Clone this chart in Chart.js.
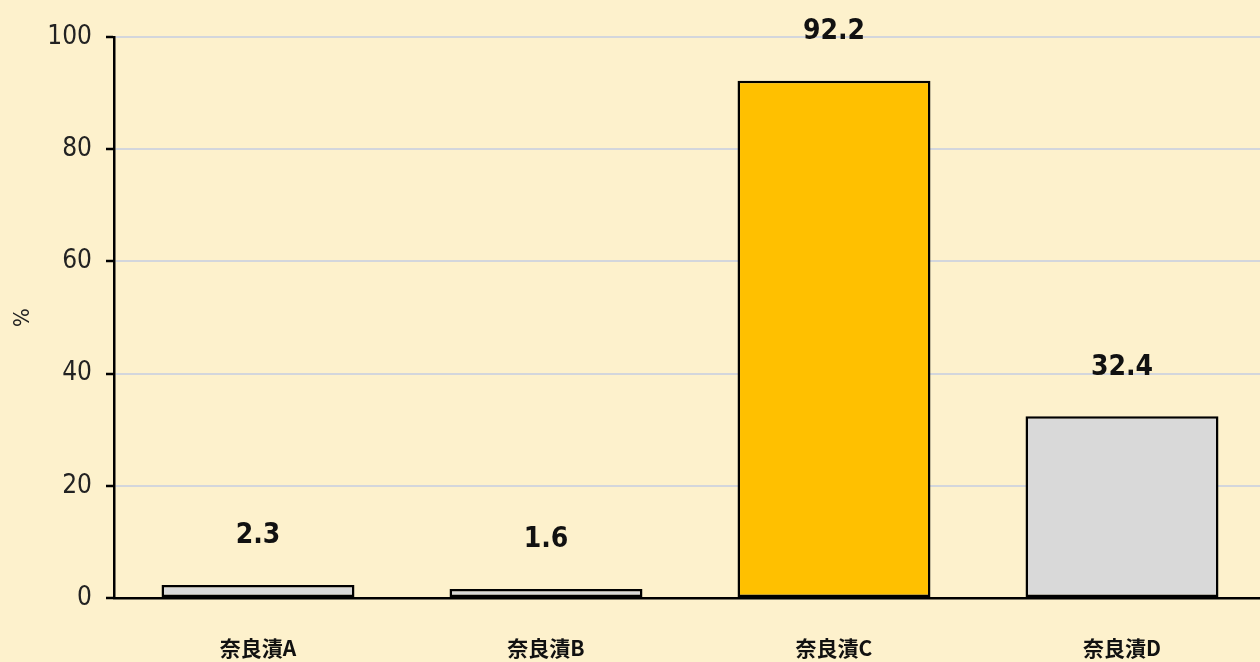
<!DOCTYPE html>
<html>
<head>
<meta charset="utf-8">
<script src="https://cdn.jsdelivr.net/npm/chart.js@4"></script>
<style>
  html, body { margin: 0; padding: 0; background: #FDF1CC; overflow: hidden; }
  #wrap { width: 1266px; height: 662px; position: relative; }
</style>
</head>
<body>
<div id="wrap"><canvas id="chart"></canvas></div>
<script>
const categories = ['奈良漬A', '奈良漬B', '奈良漬C', '奈良漬D'];
const shares = [2.3, 1.6, 92.2, 32.4];
const barColors = ['#D9D9D9', '#D9D9D9', '#FFC000', '#D9D9D9'];
const yTicks = [0, 20, 40, 60, 80, 100];

const FONT = "'Liberation Sans Narrow', 'DejaVu Sans Condensed', 'Noto Sans CJK JP', sans-serif";

// value labels above bars
const valueLabels = {
  id: 'valueLabels',
  afterDatasetsDraw(chart) {
    const ctx = chart.ctx;
    const meta = chart.getDatasetMeta(0);
    ctx.save();
    ctx.font = "bold 28px " + FONT;
    ctx.fillStyle = '#111';
    ctx.textAlign = 'center';
    ctx.textBaseline = 'middle';
    meta.data.forEach((bar, i) => {
      ctx.fillText(shares[i].toFixed(1), bar.x, bar.y - 49);
    });
    ctx.restore();
  }
};

new Chart(document.getElementById('chart').getContext('2d'), {
  type: 'bar',
  data: {
    labels: categories,
    datasets: [{
      data: shares,
      backgroundColor: barColors,
      borderColor: '#000',
      borderWidth: 2.5,
      borderSkipped: false,
      categoryPercentage: 1,
      barPercentage: 0.67
    }]
  },
  options: {
    responsive: true,
    maintainAspectRatio: false,
    animation: false,
    layout: { padding: { top: 37, right: 0, left: 0, bottom: 0 } },
    plugins: {
      legend: { display: false },
      tooltip: { enabled: false }
    },
    scales: {
      x: {
        grid: { display: false },
        border: { display: true, color: '#000', width: 2.5 },
        ticks: {
          color: '#111',
          padding: 29,
          font: { family: "'Noto Sans CJK JP', " + FONT, size: 21, weight: 'bold' }
        },
        afterFit(scale) { scale.height = 64; }
      },
      y: {
        min: 0,
        max: 100,
        afterBuildTicks(scale) { scale.ticks = yTicks.map(v => ({ value: v })); },
        grid: {
          color: '#D3D6DC',
          lineWidth: 2,
          tickColor: '#000',
          tickLength: 8,
          tickWidth: 2.5
        },
        border: { display: true, color: '#000', width: 2.5 },
        ticks: {
          color: '#222',
          padding: 14,
          font: { family: FONT, size: 26 }
        },
        title: {
          display: true,
          text: '%',
          color: '#222',
          padding: { top: 10, bottom: 40 },
          font: { family: FONT, size: 22 }
        },
        afterFit(scale) { scale.width = 114; }
      }
    }
  },
  plugins: [valueLabels]
});
</script>
</body>
</html>
